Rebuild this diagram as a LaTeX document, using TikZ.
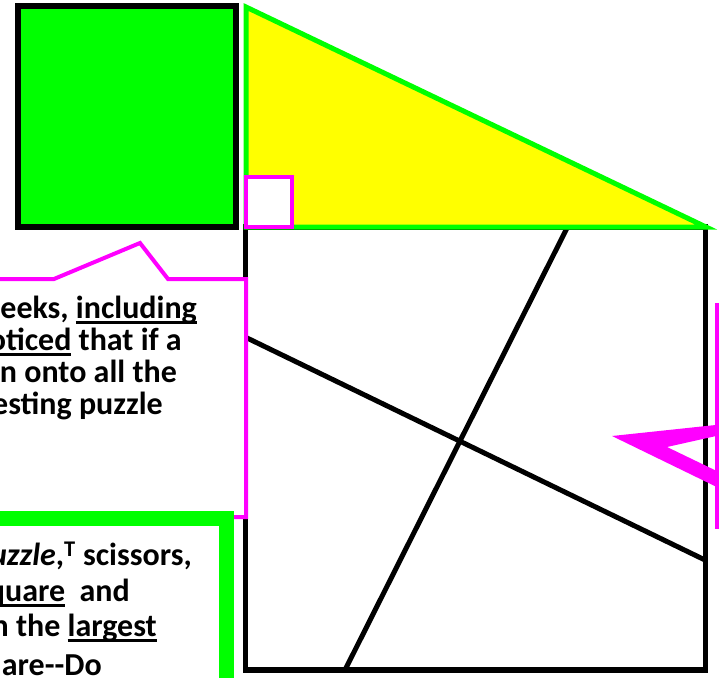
\documentclass[tikz,border=0pt]{standalone}
\usepackage{fontspec}
\setmainfont{Carlito}
\definecolor{sqgreen}{RGB}{0,255,0}
\definecolor{triyellow}{RGB}{255,255,0}
\definecolor{hotpink}{RGB}{255,0,255}
\newcommand\uln[1]{\setbox0\hbox{#1}\rlap{\rule[-6bp]{\wd0}{3bp}}\box0\relax}
\begin{document}
\begin{tikzpicture}[x=1bp,y=-1bp,
  heavy/.style={line width=5.5bp},
  pinkline/.style={draw=hotpink, line width=4bp},
  txt/.style={inner sep=0pt, anchor=base east, font=\bfseries\fontsize{32bp}{38bp}\selectfont}]
\useasboundingbox (0,0) rectangle (719,678);
\clip (0,0) rectangle (719,678);
\draw[heavy] (245.5,227) rectangle (705.5,670);
\coordinate (topcut) at (567,228);
\coordinate (botcut) at (345,670);
\coordinate (leftcut) at (245,337);
\coordinate (rightcut) at (705,560);
\draw[line width=5bp] (topcut) -- (botcut);
\draw[line width=5bp] (leftcut) -- (rightcut);
\filldraw[fill=triyellow, draw=sqgreen, line width=5bp] (246,7) -- (246,227) -- (706,227) -- cycle;
\filldraw[fill=sqgreen, line width=6bp] (18,6) rectangle (236,227);
\filldraw[fill=white, pinkline] (246,177) rectangle (292,227);
\filldraw[fill=white, pinkline] (-20,279) -- (54,279) -- (140,243) -- (168,279) -- (246,279) -- (246,517) -- (-20,517) -- cycle;
\filldraw[fill=white, draw=sqgreen, line width=15bp] (-30,518) rectangle (226,720);
\draw[pinkline] (740,305) -- (717,305) -- (717,527) -- (740,527);
\fill[hotpink] (612,436) -- (725,424) -- (725,434) -- (667,447) -- (725,475) -- (725,491) -- cycle;
\node[txt] (callout1) at (197,318) {eeks, \uln{including}};
\node[txt] (callout2) at (182,350) {\uln{oticed} that if a};
\node[txt] (callout3) at (177,382) {n onto all the};
\node[txt] (callout4) at (163,414) {esting puzzle};
\node[txt] (task1) at (192,565) {\textit{uzzle},\textsuperscript{T} scissors,};
\node[txt] (task2) at (130,601) {\uln{quare}\ \ and};
\node[txt] (task3) at (157,636) {n the \uln{largest}};
\node[txt] (task4) at (102,675) {uare-{}-Do};
\end{tikzpicture}
\end{document}
